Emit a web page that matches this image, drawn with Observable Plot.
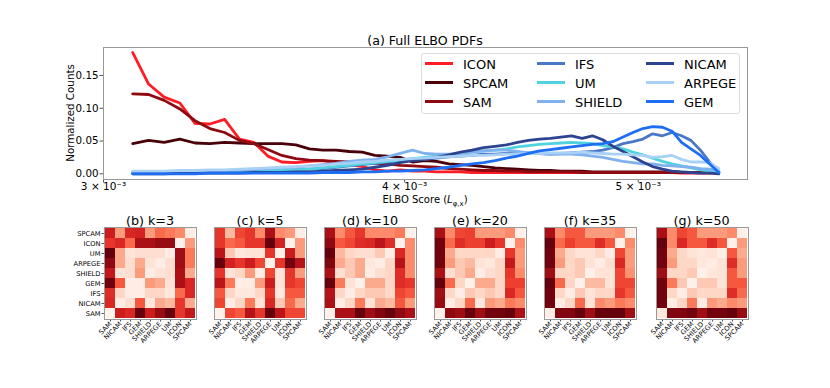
<!DOCTYPE html>
<html><head><meta charset="utf-8">
<script src="https://cdn.jsdelivr.net/npm/d3@7"></script>
<script src="https://cdn.jsdelivr.net/npm/@observablehq/plot@0.6"></script>
<style>
body{margin:0;background:#fff;font-family:"DejaVu Sans",sans-serif;}
#root{position:relative;width:830px;height:388px;overflow:hidden;background:#fff;}
.abs{position:absolute;white-space:nowrap;color:#000;}
</style></head><body><div id="root"></div>
<script>
// ---------- data: ELBO PDFs ----------
const elbo = [0.003085,0.003132,0.003179,0.003227,0.003274,0.003321,0.003368,0.003416,0.003463,0.003510,
  0.003557,0.003605,0.003652,0.003699,0.003746,0.003794,0.003841,0.003888,0.003935,0.003983,
  0.004030,0.004077,0.004124,0.004172,0.004219,0.004266,0.004313,0.004361,0.004408,0.004455,
  0.004502,0.004550,0.004597,0.004644,0.004691,0.004739,0.004786,0.004833,0.004880,0.004928,
  0.004975,0.005022,0.005069,0.005117,0.005164,0.005211,0.005258,0.005306,0.005353,0.005400];
const ICON = [0.185,0.137,0.117,0.108,0.077,0.076,0.083,0.053,0.048,0.027,
  0.018,0.017,0.019,0.020,0.017,0.014,0.011,0.006,0.004,0.006,
  0.004,0.004,0.003,0.003,0.003,0.002,0.002,0.002,0.002,0.002,
  0.002,0.002,0.002,0.002,0.002,0.002,0.002,0.002,0.002,0.002,
  0.002,0.002,0.002,0.002,0.002,0.001,0.001,0.001,0.001,0.001];
const SPCAM = [0.046,0.051,0.048,0.053,0.047,0.046,0.048,0.047,0.046,0.046,
  0.046,0.044,0.038,0.036,0.036,0.034,0.033,0.028,0.027,0.025,
  0.018,0.020,0.019,0.015,0.014,0.013,0.011,0.009,0.008,0.007,
  0.006,0.005,0.005,0.004,0.004,0.004,0.003,0.003,0.003,0.003,
  0.003,0.003,0.003,0.003,0.003,0.002,0.002,0.002,0.002,0.002];
const SAM = [0.122,0.121,0.112,0.099,0.081,0.069,0.063,0.051,0.046,0.037,
  0.028,0.023,0.021,0.020,0.019,0.018,0.017,0.016,0.015,0.013,
  0.012,0.011,0.010,0.008,0.007,0.006,0.005,0.005,0.004,0.004,
  0.003,0.003,0.003,0.003,0.003,0.002,0.002,0.002,0.002,0.002,
  0.002,0.002,0.002,0.002,0.002,0.002,0.002,0.002,0.002,0.002];
const IFS = [0.001,0.001,0.001,0.002,0.002,0.002,0.003,0.003,0.004,0.004,
  0.005,0.006,0.007,0.008,0.010,0.012,0.014,0.016,0.018,0.020,
  0.021,0.022,0.024,0.026,0.027,0.028,0.030,0.030,0.031,0.032,
  0.032,0.031,0.030,0.031,0.032,0.033,0.034,0.036,0.040,0.046,
  0.049,0.053,0.061,0.058,0.063,0.058,0.051,0.036,0.018,0.003];
const UM = [0.001,0.001,0.001,0.001,0.002,0.002,0.002,0.003,0.003,0.004,
  0.005,0.006,0.007,0.009,0.011,0.013,0.015,0.017,0.019,0.021,
  0.023,0.025,0.027,0.029,0.031,0.033,0.035,0.036,0.038,0.041,
  0.043,0.045,0.046,0.047,0.048,0.047,0.046,0.043,0.041,0.038,
  0.033,0.029,0.024,0.019,0.015,0.012,0.009,0.006,0.004,0.003];
const SHIELD = [0.003,0.003,0.003,0.004,0.004,0.005,0.005,0.006,0.007,0.008,
  0.009,0.010,0.012,0.014,0.016,0.019,0.021,0.022,0.026,0.031,
  0.036,0.031,0.030,0.030,0.031,0.033,0.035,0.036,0.036,0.034,
  0.032,0.031,0.030,0.030,0.030,0.029,0.027,0.025,0.022,0.019,
  0.017,0.015,0.015,0.013,0.012,0.011,0.010,0.008,0.007,0.005];
const NICAM = [0.000,0.000,0.000,0.001,0.001,0.001,0.001,0.001,0.002,0.002,
  0.002,0.003,0.003,0.004,0.005,0.006,0.007,0.010,0.013,0.017,
  0.020,0.022,0.025,0.029,0.033,0.036,0.040,0.042,0.044,0.048,
  0.051,0.053,0.054,0.056,0.058,0.054,0.058,0.052,0.042,0.034,
  0.026,0.018,0.011,0.007,0.004,0.003,0.002,0.001,0.001,0.000];
const ARPEGE = [0.004,0.004,0.004,0.005,0.005,0.006,0.006,0.007,0.008,0.009,
  0.010,0.011,0.012,0.013,0.015,0.016,0.018,0.019,0.021,0.022,
  0.023,0.024,0.025,0.026,0.027,0.028,0.028,0.029,0.030,0.030,
  0.031,0.031,0.032,0.032,0.032,0.033,0.032,0.031,0.030,0.030,
  0.029,0.028,0.025,0.026,0.028,0.022,0.018,0.018,0.017,0.008];
const GEM = [0.000,0.000,0.000,0.000,0.000,0.001,0.001,0.001,0.001,0.001,
  0.001,0.001,0.001,0.002,0.002,0.002,0.003,0.003,0.004,0.004,
  0.005,0.006,0.008,0.010,0.013,0.015,0.017,0.020,0.024,0.027,
  0.031,0.035,0.037,0.039,0.041,0.043,0.045,0.046,0.049,0.056,
  0.063,0.069,0.072,0.071,0.065,0.048,0.038,0.028,0.015,0.002];

const models = ["ICON","SPCAM","SAM","IFS","UM","SHIELD","NICAM","ARPEGE","GEM"];
const seriesValues = {ICON, SPCAM, SAM, IFS, UM, SHIELD, NICAM, ARPEGE, GEM};
const modelColors = ["#ff1c24","#4a0008","#8f0a10","#4a78c9","#4fd3df","#7fb1ee","#2d438f","#a8d1f5","#1e6ef3"];
const xTicks = [0.003, 0.004, 0.005];
const yTicks = [0, 0.05, 0.10, 0.15];

// ---------- data: similarity matrices ----------
const colOrder = ["SAM","NICAM","IFS","GEM","SHIELD","ARPEGE","UM","ICON","SPCAM"];
const rowOrder = ["SPCAM","ICON","UM","ARPEGE","SHIELD","GEM","IFS","NICAM","SAM"];
const panelTitles = ["(b) k=3","(c) k=5","(d) k=10","(e) k=20","(f) k=35","(g) k=50"];
const k3 = [
  [0.75,0.35,0.70,0.72,0.35,0.50,0.45,0.40,0.05],
  [0.65,0.70,0.50,0.85,0.85,0.90,0.90,0.03,0.35],
  [1.00,0.30,0.10,0.12,0.12,0.12,0.05,0.88,0.45],
  [0.92,0.30,0.12,0.30,0.10,0.05,0.12,0.88,0.45],
  [0.78,0.10,0.12,0.35,0.05,0.10,0.12,0.85,0.30],
  [0.98,0.55,0.05,0.05,0.35,0.30,0.10,0.85,0.70],
  [0.68,0.15,0.05,0.05,0.15,0.15,0.08,0.50,0.70],
  [0.70,0.05,0.12,0.55,0.08,0.30,0.25,0.65,0.30],
  [0.02,0.75,0.70,1.00,0.75,0.90,1.00,0.65,0.78]];
const k5 = [
  [0.65,0.25,0.60,0.65,0.40,0.85,0.40,0.35,0.05],
  [0.65,0.50,0.55,0.65,0.65,1.00,0.72,0.03,0.35],
  [0.80,0.20,0.08,0.10,0.10,0.65,0.03,0.75,0.35],
  [1.00,0.72,0.65,0.75,0.60,0.03,0.65,0.98,0.82],
  [0.65,0.10,0.15,0.35,0.05,0.60,0.10,0.65,0.35],
  [0.80,0.45,0.05,0.05,0.35,0.75,0.10,0.65,0.60],
  [0.55,0.15,0.08,0.08,0.15,0.65,0.08,0.55,0.55],
  [0.60,0.05,0.15,0.45,0.10,0.70,0.20,0.50,0.30],
  [0.02,0.60,0.55,0.82,0.65,1.00,0.80,0.60,0.60]];
const k10 = [
  [0.85,0.40,0.55,0.65,0.40,0.40,0.40,0.45,0.03],
  [0.92,0.55,0.60,0.68,0.70,0.80,0.68,0.03,0.40],
  [1.00,0.25,0.15,0.12,0.12,0.20,0.05,0.70,0.40],
  [0.95,0.30,0.20,0.30,0.08,0.05,0.15,0.82,0.40],
  [0.85,0.12,0.20,0.30,0.05,0.12,0.15,0.68,0.40],
  [1.00,0.45,0.10,0.03,0.30,0.30,0.15,0.68,0.65],
  [0.82,0.15,0.05,0.15,0.20,0.20,0.15,0.60,0.55],
  [0.85,0.05,0.15,0.45,0.10,0.30,0.25,0.55,0.35],
  [0.03,0.85,0.85,1.00,0.88,0.95,1.00,0.92,0.85]];
const k20 = [
  [0.85,0.40,0.60,0.62,0.35,0.35,0.35,0.40,0.03],
  [0.98,0.50,0.68,0.62,0.62,0.75,0.65,0.03,0.40],
  [0.98,0.30,0.15,0.15,0.15,0.15,0.05,0.65,0.35],
  [0.98,0.35,0.20,0.25,0.10,0.08,0.15,0.78,0.35],
  [0.85,0.12,0.20,0.30,0.05,0.12,0.15,0.65,0.40],
  [1.00,0.50,0.15,0.03,0.30,0.30,0.15,0.62,0.62],
  [0.88,0.15,0.05,0.20,0.15,0.20,0.15,0.70,0.55],
  [0.90,0.05,0.15,0.50,0.08,0.35,0.30,0.45,0.40],
  [0.03,0.92,0.88,1.00,0.88,0.98,0.98,1.00,0.85]];
const k35 = [
  [0.85,0.40,0.55,0.55,0.35,0.35,0.35,0.40,0.03],
  [1.00,0.50,0.62,0.55,0.55,0.68,0.55,0.03,0.40],
  [0.98,0.30,0.15,0.10,0.10,0.15,0.05,0.60,0.35],
  [0.98,0.35,0.15,0.20,0.10,0.05,0.12,0.70,0.35],
  [0.88,0.15,0.15,0.20,0.03,0.10,0.10,0.60,0.38],
  [1.00,0.50,0.15,0.03,0.25,0.25,0.10,0.60,0.60],
  [0.98,0.15,0.05,0.20,0.10,0.15,0.15,0.65,0.55],
  [0.98,0.05,0.15,0.50,0.10,0.40,0.35,0.45,0.40],
  [0.05,0.95,0.95,1.00,0.88,1.00,1.00,1.00,0.88]];
const k50 = [
  [0.85,0.40,0.60,0.55,0.35,0.35,0.35,0.40,0.03],
  [1.00,0.40,0.70,0.55,0.55,0.68,0.55,0.03,0.35],
  [0.98,0.30,0.15,0.10,0.08,0.10,0.05,0.55,0.30],
  [0.98,0.35,0.15,0.15,0.08,0.05,0.10,0.68,0.35],
  [0.88,0.15,0.15,0.20,0.03,0.08,0.10,0.55,0.35],
  [0.98,0.45,0.20,0.03,0.20,0.20,0.10,0.55,0.55],
  [0.98,0.15,0.05,0.20,0.15,0.15,0.15,0.68,0.50],
  [0.98,0.05,0.15,0.45,0.05,0.35,0.30,0.40,0.35],
  [0.08,0.95,0.95,0.98,0.88,0.98,0.98,1.00,0.90]];
const matrices = [k3, k5, k10, k20, k35, k50];

// ---------- layout ----------
const root = document.getElementById("root");
function addText(html, style) {
  const d = document.createElement("div");
  d.className = "abs";
  d.innerHTML = html;
  Object.assign(d.style, style);
  root.appendChild(d);
  return d;
}
const FONT = "DejaVu Sans, sans-serif";

// ---- top line chart ----
const lineRows = [];
models.forEach(m => seriesValues[m].forEach((v, i) => lineRows.push({model: m, x: elbo[i], y: v})));

const pdfChart = Plot.plot({
  width: 830, height: 200,
  marginLeft: 103, marginRight: 83, marginTop: 47, marginBottom: 21,
  style: {fontFamily: FONT, fontSize: "10px", background: "transparent", color: "#000"},
  x: {type: "log", domain: [0.003, 0.00555], label: null},
  y: {domain: [-0.0087, 0.1927], label: null},
  color: {domain: models, range: modelColors},
  marks: [
    ...models.map(m => Plot.line(lineRows.filter(d => d.model === m),
      {x: "x", y: "y", stroke: "model", strokeWidth: 2.8, strokeLinejoin: "round"})),
    Plot.axisX({ticks: xTicks, tickFormat: d => `${Math.round(d * 1000)} × 10⁻³`, tickSize: 3.5, tickPadding: 0, fontSize: 10.5, stroke: "#555"}),
    Plot.axisY({ticks: yTicks, tickFormat: d3.format(".2f"), tickSize: 3.5, tickPadding: 1.5, fontSize: 10.3, stroke: "#555"}),
    Plot.frame({stroke: "#999", strokeWidth: 1})
  ]
});
pdfChart.style.position = "absolute"; pdfChart.style.left = "0px"; pdfChart.style.top = "0px";
root.appendChild(pdfChart);

addText("(a) Full ELBO PDFs", {left: "425px", top: "40px", transform: "translate(-50%,-50%)", fontSize: "12.6px", fontFamily: FONT});
addText("Normalized Counts", {left: "70px", top: "113px", transform: "translate(-50%,-50%) rotate(-90deg)", fontSize: "10.3px", fontFamily: FONT});
addText("ELBO Score (<i>L</i><sub style='font-size:7px'>φ,x</sub>)", {left: "425px", top: "201px", transform: "translate(-50%,-50%)", fontSize: "10px", fontFamily: FONT});

// legend
const leg = document.createElement("div");
leg.className = "abs";
Object.assign(leg.style, {left: "421px", top: "53px", width: "319px", height: "61px", border: "1px solid #ddd", borderRadius: "3px", background: "rgba(255,255,255,0.85)", boxSizing: "border-box"});
root.appendChild(leg);
const legColX = [425, 537, 646], legRowY = [63.5, 82.5, 101.5];
models.forEach((m, i) => {
  const c = Math.floor(i / 3), r = i % 3;
  const sw = document.createElement("div");
  sw.className = "abs";
  Object.assign(sw.style, {left: legColX[c] + "px", top: (legRowY[r] - 1.5) + "px", width: "28px", height: "3px", background: modelColors[i]});
  root.appendChild(sw);
  addText(m, {left: (legColX[c] + 38) + "px", top: legRowY[r] + "px", transform: "translateY(-50%)", fontSize: "13px", fontFamily: FONT});
});

// ---- heatmaps ----
const frameLefts = [104, 214, 324, 434, 544, 655.5];
const frameTop = 226.7, frameSize = 92;
matrices.forEach((mat, p) => {
  const cells = [];
  rowOrder.forEach((rn, r) => colOrder.forEach((cn, c) => cells.push({row: rn, col: cn, v: mat[r][c]})));
  const ml = p === 0 ? 40 : 20, mr = 4, mt = 4, mb = 40;
  const marks = [
    Plot.cell(cells, {x: "col", y: "row", fill: "v"}),
    Plot.axisX({tickRotate: -45, tickSize: 2.5, tickPadding: 1, fontSize: 6.7, stroke: "#555"}),
    Plot.frame({stroke: "#999", strokeWidth: 1})
  ];
  if (p === 0) marks.push(Plot.axisY({tickSize: 2.5, tickPadding: 1.5, fontSize: 6.7, stroke: "#555"}));
  const svg = Plot.plot({
    width: ml + frameSize + mr, height: mt + frameSize + mb,
    marginLeft: ml, marginRight: mr, marginTop: mt, marginBottom: mb,
    style: {fontFamily: FONT, fontSize: "6.7px", background: "transparent", color: "#000"},
    x: {domain: colOrder, padding: 0, label: null},
    y: p === 0 ? {domain: rowOrder, padding: 0, label: null} : {domain: rowOrder, padding: 0, label: null, axis: null},
    color: {type: "linear", domain: [0, 1], scheme: "reds"},
    marks
  });
  svg.style.position = "absolute";
  svg.style.left = (frameLefts[p] - ml) + "px";
  svg.style.top = (frameTop - mt) + "px";
  root.appendChild(svg);
  addText(panelTitles[p], {left: (frameLefts[p] + frameSize / 2) + "px", top: "220px", transform: "translate(-50%,-50%)", fontSize: "12.7px", fontFamily: FONT});
});
</script>
</body></html>
